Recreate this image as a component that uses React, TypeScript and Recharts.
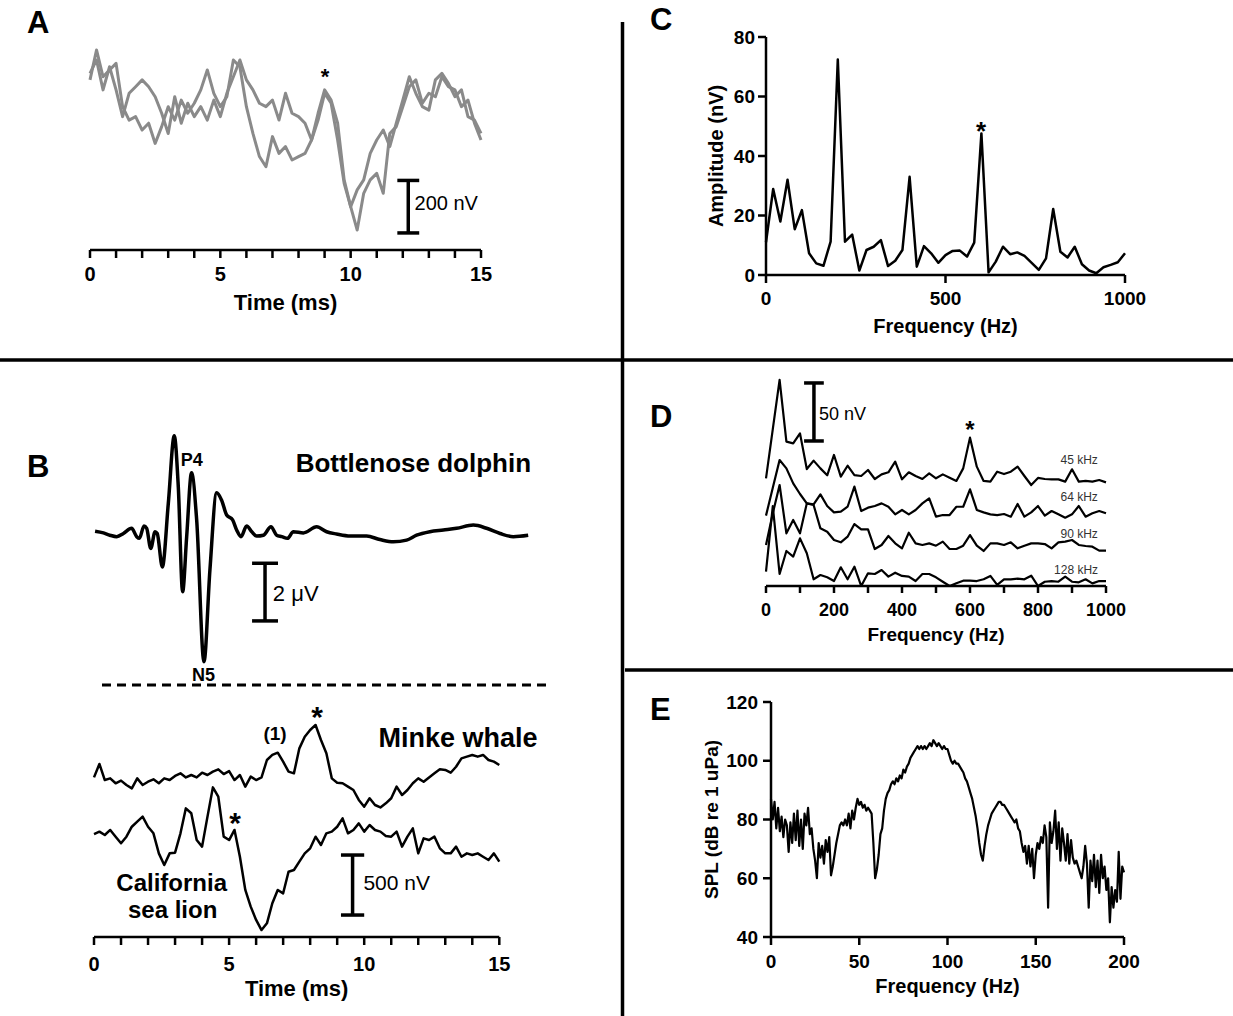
import React from "react";
import { LineChart, Line, XAxis, YAxis, ReferenceLine, ReferenceDot, Label } from "recharts";

const FONT = "'Liberation Sans', Arial, Helvetica, sans-serif";

// ---- A: two averaged responses (nV), one sample every 0.25 ms
const traceA1 = [648, 762, 660, 686, 711, 546, 495, 508, 457, 483, 406, 470, 546, 495, 571, 521, 559, 610, 686, 597, 546, 584, 724, 698, 546, 444, 356, 317, 432, 368, 394, 343, 356, 368, 419, 495, 597, 559, 419, 254, 165, 76, 216, 267, 292, 216, 444, 470, 546, 622, 648, 559, 597, 584, 660, 622, 610, 546, 571, 483, 419];
const traceA2 = [673, 724, 610, 698, 610, 508, 597, 622, 648, 622, 584, 521, 444, 584, 483, 559, 508, 546, 495, 571, 508, 597, 660, 724, 648, 610, 559, 546, 571, 495, 597, 521, 508, 483, 419, 521, 610, 571, 483, 267, 165, 229, 267, 368, 419, 457, 394, 483, 571, 660, 597, 546, 533, 648, 673, 635, 584, 610, 508, 495, 444];
const timeTicks = [0, 1, 2, 3, 4, 5, 6, 7, 8, 9, 10, 11, 12, 13, 14, 15];

// ---- B: dolphin (uV, irregular times), minke + sea lion (nV, 0.2 ms)
const dolphinT = [0.04, 0.35, 0.59, 0.84, 1.09, 1.39, 1.58, 1.68, 1.85, 1.95, 2.1, 2.26, 2.34, 2.53, 2.75, 2.97, 3.12, 3.28, 3.43, 3.61, 3.8, 4.07, 4.29, 4.54, 4.72, 4.91, 5.13, 5.28, 5.44, 5.65, 5.84, 6.02, 6.27, 6.55, 6.76, 6.95, 7.16, 7.38, 7.75, 8.24, 8.61, 8.98, 9.48, 10.09, 10.58, 11.08, 11.57, 11.94, 12.43, 12.93, 13.42, 14.04, 14.53, 15.03, 15.52, 16.07];
const dolphinV = [-0.01, -0.07, -0.15, -0.2, -0.09, 0.09, -0.2, -0.26, 0.17, 0.09, -0.61, -0.03, -0.09, -1.25, 0.95, 3.3, 1.53, -2.11, -0.2, 2.02, 0.38, -4.54, -1.36, 1.32, 1.07, 0.55, 0.38, 0.03, -0.2, 0.17, -0.03, -0.18, -0.15, 0.14, -0.15, -0.2, -0.26, -0.03, -0.07, 0.14, -0.03, -0.11, -0.18, -0.18, -0.3, -0.38, -0.32, -0.15, -0.03, 0.03, 0.09, 0.2, 0.09, -0.09, -0.2, -0.15];
const minke = [1330, 1442, 1308, 1322, 1281, 1303, 1267, 1239, 1322, 1267, 1294, 1314, 1281, 1322, 1308, 1342, 1364, 1330, 1350, 1330, 1369, 1350, 1378, 1397, 1358, 1383, 1308, 1350, 1253, 1336, 1308, 1330, 1475, 1517, 1536, 1461, 1378, 1364, 1572, 1669, 1725, 1767, 1642, 1531, 1322, 1286, 1281, 1253, 1225, 1142, 1086, 1156, 1100, 1080, 1114, 1156, 1253, 1183, 1225, 1281, 1322, 1294, 1330, 1364, 1397, 1392, 1369, 1419, 1489, 1503, 1517, 1503, 1517, 1475, 1461, 1433];
const seaLion = [858, 878, 850, 892, 836, 781, 836, 919, 961, 1003, 919, 864, 697, 600, 697, 703, 864, 1072, 1031, 808, 753, 1003, 1247, 1169, 836, 808, 892, 669, 392, 253, 142, 58, 114, 281, 392, 364, 544, 558, 628, 697, 739, 836, 767, 864, 878, 919, 989, 864, 892, 947, 878, 933, 892, 878, 842, 836, 878, 753, 836, 905, 697, 822, 808, 836, 739, 697, 697, 753, 669, 697, 683, 697, 669, 642, 697, 628];

// ---- C: spectrum (nV), 20 Hz bins
const ampC = [11, 28.9, 18, 32, 15.4, 21.8, 7.3, 3.9, 3.1, 11.2, 72.4, 11.2, 13.6, 1.5, 8.4, 9.5, 11.7, 3.0, 4.8, 8.4, 33, 2.8, 9.7, 7.3, 4.1, 6.7, 8.1, 8.2, 6.2, 10.9, 47.6, 0.9, 4.5, 9.5, 7.0, 7.6, 6.4, 4.1, 1.7, 5.6, 22.2, 7.8, 5.9, 9.5, 3.6, 1.5, 0.6, 2.6, 3.4, 4.3, 7.3];

// ---- D: stacked spectra (nV, already offset), 20 Hz bins
const d45 = [93.2, 135.8, 178.3, 124.9, 123.4, 132.1, 101.2, 108.5, 101.8, 95.8, 113.4, 94.6, 104.1, 96.0, 95.2, 100.4, 92.6, 96.6, 98.4, 107.6, 92.3, 98.4, 95.2, 92.6, 97.5, 93.2, 96.6, 93.7, 90.9, 101.8, 128.4, 103.3, 90.9, 90.3, 98.9, 96.9, 98.9, 103.3, 95.2, 87.4, 93.5, 92.6, 92.3, 92.3, 90.3, 101.0, 90.3, 90.9, 90.3, 91.7, 89.7];
const d64 = [60.9, 85.1, 109.0, 101.8, 88.8, 79.6, 71.5, 70.7, 79.3, 69.2, 63.7, 64.3, 68.6, 86.0, 64.9, 67.8, 69.2, 71.5, 68.6, 62.0, 65.8, 62.0, 65.8, 71.5, 75.9, 60.0, 61.4, 61.4, 68.6, 68.6, 83.6, 65.8, 63.7, 62.0, 61.4, 62.3, 60.0, 71.0, 60.0, 63.7, 69.2, 60.9, 64.9, 62.0, 59.1, 62.0, 69.2, 60.0, 62.9, 64.9, 62.9];
const d90 = [35.5, 62.9, 87.4, 45.6, 57.1, 45.6, 71.5, 70.1, 49.9, 47.0, 39.8, 37.8, 42.7, 53.6, 49.0, 49.0, 32.0, 35.5, 43.3, 36.9, 32.6, 46.1, 36.9, 35.5, 36.9, 34.9, 38.4, 32.0, 32.0, 34.9, 44.1, 34.9, 30.3, 36.9, 36.9, 35.5, 37.8, 32.6, 34.9, 36.9, 36.9, 36.3, 32.6, 37.8, 38.4, 39.8, 35.5, 34.6, 34.0, 30.6, 30.6];
const d128 = [12.4, 69.2, 10.4, 30.3, 25.4, 41.2, 28.3, 5.8, 9.5, 7.5, 4.3, 16.2, 5.8, 16.7, 0, 11.0, 10.4, 13.8, 8.1, 11.5, 8.7, 8.1, 4.3, 10.4, 10.4, 7.5, 3.7, 0, 2.3, 4.6, 4.6, 4.3, 5.8, 8.7, 0.9, 5.8, 5.8, 6.3, 5.8, 8.9, 0, 3.7, 4.3, 3.7, 8.1, 3.7, 3.2, 5.8, 2.3, 4.3, 4.3];
const dLabels = ["45 kHz", "64 kHz", "90 kHz", "128 kHz"];

// ---- E: stimulus SPL (dB re 1 uPa), 1 Hz bins
const splE = [
  87, 80, 86, 77, 84, 76, 81, 74, 80, 78, 69, 79, 72, 82, 73, 83, 71, 80, 70, 82,
  78, 84, 75, 77, 70, 66, 60, 72, 67, 71, 65, 73, 69, 74, 61, 64, 68, 72, 75, 78,
  79, 78, 80, 78, 82, 77, 83, 80, 84, 87, 85, 86, 84, 85, 83, 84, 83, 82, 72, 60,
  63, 68, 75, 77, 83, 87, 89, 90, 92, 93, 92, 94, 93, 95, 94, 97, 96, 98, 99, 101,
  102, 103, 104, 105, 104, 105, 104, 105, 104, 105, 106, 105, 107, 106, 105, 106, 105, 104, 105, 104,
  104, 102, 100, 99, 100, 99, 99, 98, 97, 96, 94, 93, 91, 89, 87, 84, 81, 77, 72, 68,
  66, 71, 75, 78, 80, 82, 83, 84, 85, 86, 86, 85, 85, 84, 83, 82, 81, 80, 79, 80,
  77, 76, 72, 69, 71, 65, 71, 64, 70, 60, 68, 72, 70, 74, 72, 78, 74, 50, 79, 72,
  76, 83, 70, 79, 66, 77, 72, 66, 75, 65, 73, 67, 65, 66, 64, 62, 60, 64, 71, 65,
  50, 66, 59, 68, 57, 66, 55, 68, 60, 64, 56, 60, 45, 57, 50, 56, 52, 69, 53, 64,
  62,
];

const axisLine = { stroke: "#000", strokeWidth: 2.5 };
const tickStyle = (size: number) => ({ fill: "#000", fontSize: size, fontWeight: 700, fontFamily: FONT });

function note(key: string, x: number, y: number, value: string, size: number, bold = true, position = "center", fill = "#000") {
  return (
    <ReferenceDot
      key={key}
      x={x}
      y={y}
      r={0}
      fill="none"
      stroke="none"
      label={{ value, position, offset: 0, fill, fontSize: size, fontWeight: bold ? 700 : 400, fontFamily: FONT }}
    />
  );
}

function scaleBar(key: string, x: number, y0: number, y1: number, half: number) {
  const s = { stroke: "#000", strokeWidth: 3.5 };
  return [
    <ReferenceLine key={key + "v"} segment={[{ x, y: y0 }, { x, y: y1 }]} {...s} />,
    <ReferenceLine key={key + "b"} segment={[{ x: x - half, y: y0 }, { x: x + half, y: y0 }]} {...s} />,
    <ReferenceLine key={key + "t"} segment={[{ x: x - half, y: y1 }, { x: x + half, y: y1 }]} {...s} />,
  ];
}

function PanelA() {
  const data = traceA1.map((v, i) => ({ t: i * 0.25, a: v, b: traceA2[i] }));
  return (
    <LineChart width={520} height={330} data={data} margin={{ top: 40, right: 39, bottom: 0, left: 90 }}>
      <XAxis dataKey="t" type="number" domain={[0, 15]} ticks={timeTicks} interval={0}
        tickFormatter={(v) => (v % 5 === 0 ? String(v) : "")}
        axisLine={axisLine} tickLine={axisLine} tickSize={8} tickMargin={9} height={80} tick={tickStyle(20)}>
        <Label value="Time (ms)" position="insideBottom" offset={20} fill="#000" fontSize={22} fontWeight={700} fontFamily={FONT} />
      </XAxis>
      <YAxis hide domain={[0, 800]} allowDataOverflow />
      <Line dataKey="a" stroke="#8a8a8a" strokeWidth={3} dot={false} isAnimationActive={false} type="linear" strokeLinejoin="round" />
      <Line dataKey="b" stroke="#8a8a8a" strokeWidth={3} dot={false} isAnimationActive={false} type="linear" strokeLinejoin="round" />
      {scaleBar("sa", 12.21, 65, 265, 0.42)}
      {note("ra", 12.45, 179, "200 nV", 20, false, "right")}
      {note("sta", 9.02, 663, "*", 22)}
    </LineChart>
  );
}

function PanelBTop() {
  const data = dolphinT.map((t, i) => ({ t, v: dolphinV[i] }));
  return (
    <LineChart width={560} height={270} data={data} margin={{ top: 10, right: 31, bottom: 0.6, left: 94 }}>
      <XAxis dataKey="t" type="number" domain={[0, 16.1]} hide />
      <YAxis hide domain={[-5.5, 3.5]} allowDataOverflow />
      <Line dataKey="v" stroke="#000" strokeWidth={3.5} dot={false} isAnimationActive={false} type="monotone" />
      {scaleBar("sd", 6.33, -3.124, -1.124, 0.48)}
      {note("rd", 6.62, -2.165, "2 \u03bcV", 22, false, "right")}
      {note("p4", 3.62, 2.46, "P4", 18)}
      {note("n5", 4.05, -5.0, "N5", 18)}
      {note("bd", 11.82, 2.35, "Bottlenose dolphin", 26)}
    </LineChart>
  );
}

function PanelBBottom() {
  const data = minke.map((v, i) => ({ t: i * 0.2, m: v, s: seaLion[i] }));
  return (
    <LineChart width={560} height={326} data={data} margin={{ top: 7, right: 60.7, bottom: 0, left: 94 }}>
      <XAxis dataKey="t" type="number" domain={[0, 15]} ticks={timeTicks} interval={0}
        tickFormatter={(v) => (v % 5 === 0 ? String(v) : "")}
        axisLine={axisLine} tickLine={axisLine} tickSize={8} tickMargin={12} height={79} tick={tickStyle(20)}>
        <Label value="Time (ms)" position="insideBottom" offset={20} fill="#000" fontSize={22} fontWeight={700} fontFamily={FONT} />
      </XAxis>
      <YAxis hide domain={[0, 2000]} allowDataOverflow />
      <Line dataKey="m" stroke="#000" strokeWidth={2.5} dot={false} isAnimationActive={false} type="linear" strokeLinejoin="round" />
      <Line dataKey="s" stroke="#000" strokeWidth={2.5} dot={false} isAnimationActive={false} type="linear" strokeLinejoin="round" />
      {scaleBar("sb", 9.57, 183, 683, 0.43)}
      {note("rb", 9.97, 452, "500 nV", 21, false, "right")}
      {note("stm", 8.26, 1842, "*", 30)}
      {note("sts", 5.22, 952, "*", 30)}
      {note("one", 6.7, 1697, "(1)", 19)}
      {note("mw", 13.47, 1662, "Minke whale", 27)}
      {note("ca", 2.875, 452, "California", 24)}
      {note("sl", 2.91, 233, "sea lion", 24)}
    </LineChart>
  );
}

function PanelC() {
  const data = ampC.map((v, i) => ({ f: i * 20, v }));
  return (
    <LineChart width={520} height={350} data={data} margin={{ top: 37, right: 35, bottom: 0, left: 0 }}>
      <XAxis dataKey="f" type="number" domain={[0, 1000]} ticks={[0, 500, 1000]} interval={0}
        axisLine={axisLine} tickLine={axisLine} tickSize={8} tickMargin={9} height={75} tick={tickStyle(19)}>
        <Label value="Frequency (Hz)" position="insideBottom" offset={17} fill="#000" fontSize={20} fontWeight={700} fontFamily={FONT} />
      </XAxis>
      <YAxis domain={[0, 80]} ticks={[0, 20, 40, 60, 80]} interval={0} width={126}
        axisLine={axisLine} tickLine={axisLine} tickSize={8} tickMargin={3} tick={tickStyle(19)}>
        <Label value="Amplitude (nV)" angle={-90} position="insideLeft" offset={76} textAnchor="middle"
          style={{ textAnchor: "middle" }} fill="#000" fontSize={20} fontWeight={700} fontFamily={FONT} />
      </YAxis>
      <Line dataKey="v" stroke="#000" strokeWidth={2.5} dot={false} isAnimationActive={false} type="linear" strokeLinejoin="round" />
      {note("stc", 599, 48.4, "*", 26)}
    </LineChart>
  );
}

function PanelD() {
  const data = d45.map((v, i) => ({ f: i * 20, a: v, b: d64[i], c: d90[i], d: d128[i] }));
  const ticks = [0, 100, 200, 300, 400, 500, 600, 700, 800, 900, 1000];
  const labelY = [109.6, 77.3, 45.6, 13.8];
  return (
    <LineChart width={510} height={300} data={data} margin={{ top: 18, right: 44, bottom: 0, left: 126 }}>
      <XAxis dataKey="f" type="number" domain={[0, 1000]} ticks={ticks} interval={0}
        tickFormatter={(v) => (v % 200 === 0 ? String(v) : "")}
        axisLine={axisLine} tickLine={axisLine} tickSize={7} tickMargin={10} height={74} tick={tickStyle(18)}>
        <Label value="Frequency (Hz)" position="insideBottom" offset={19} fill="#000" fontSize={19} fontWeight={700} fontFamily={FONT} />
      </XAxis>
      <YAxis hide domain={[0, 180]} allowDataOverflow />
      {["a", "b", "c", "d"].map((k) => (
        <Line key={k} dataKey={k} stroke="#000" strokeWidth={2.2} dot={false} isAnimationActive={false} type="linear" strokeLinejoin="round" />
      ))}
      {scaleBar("sdd", 141, 125.5, 175.7, 29)}
      {note("rdd", 156, 149.4, "50 nV", 18, false, "right")}
      {note("std", 600, 135.2, "*", 24)}
      {dLabels.map((l, i) => note("dl" + i, i === 3 ? 912 : 921, labelY[i], l, 12, false, "center", "#333"))}
    </LineChart>
  );
}

function PanelE() {
  const data = splE.map((v, i) => ({ f: i, v }));
  return (
    <LineChart width={520} height={336} data={data} margin={{ top: 22, right: 36, bottom: 0, left: 0 }}>
      <XAxis dataKey="f" type="number" domain={[0, 200]} ticks={[0, 50, 100, 150, 200]} interval={0}
        axisLine={axisLine} tickLine={axisLine} tickSize={8} tickMargin={10} height={79} tick={tickStyle(19)}>
        <Label value="Frequency (Hz)" position="insideBottom" offset={23} fill="#000" fontSize={20} fontWeight={700} fontFamily={FONT} />
      </XAxis>
      <YAxis domain={[40, 120]} ticks={[40, 60, 80, 100, 120]} interval={0} width={131}
        axisLine={axisLine} tickLine={axisLine} tickSize={8} tickMargin={5} tick={tickStyle(19)}>
        <Label value="SPL (dB re 1 uPa)" angle={-90} position="insideLeft" offset={71.5} textAnchor="middle"
          style={{ textAnchor: "middle" }} fill="#000" fontSize={19} fontWeight={700} fontFamily={FONT} />
      </YAxis>
      <Line dataKey="v" stroke="#000" strokeWidth={2.2} dot={false} isAnimationActive={false} type="linear" strokeLinejoin="round" />
    </LineChart>
  );
}

const box = (left: number, top: number): React.CSSProperties => ({ position: "absolute", left, top });
const letter = { fontFamily: FONT, fontWeight: 700, fontSize: 31, fill: "#000" };

export default function App() {
  return (
    <div style={{ position: "absolute", left: 0, top: 0, width: 1233, height: 1016, background: "#fff", overflow: "hidden" }}>
      <div style={box(0, 0)}><PanelA /></div>
      <div style={box(0, 420)}><PanelBTop /></div>
      <div style={box(0, 690)}><PanelBBottom /></div>
      <div style={box(640, 0)}><PanelC /></div>
      <div style={box(640, 360)}><PanelD /></div>
      <div style={box(640, 680)}><PanelE /></div>
      <svg width={1233} height={1016} style={{ position: "absolute", left: 0, top: 0, pointerEvents: "none" }}>
        <line x1={622.5} y1={22} x2={622.5} y2={1016} stroke="#000" strokeWidth={3.5} />
        <line x1={0} y1={360} x2={1233} y2={360} stroke="#000" strokeWidth={3.5} />
        <line x1={625} y1={670} x2={1233} y2={670} stroke="#000" strokeWidth={3.5} />
        <line x1={102} y1={685} x2={550} y2={685} stroke="#000" strokeWidth={3} strokeDasharray="9 6" />
        <text x={27} y={33} style={letter}>A</text>
        <text x={27} y={477} style={letter}>B</text>
        <text x={650} y={30} style={letter}>C</text>
        <text x={650} y={427} style={letter}>D</text>
        <text x={650} y={720} style={letter}>E</text>
      </svg>
    </div>
  );
}
